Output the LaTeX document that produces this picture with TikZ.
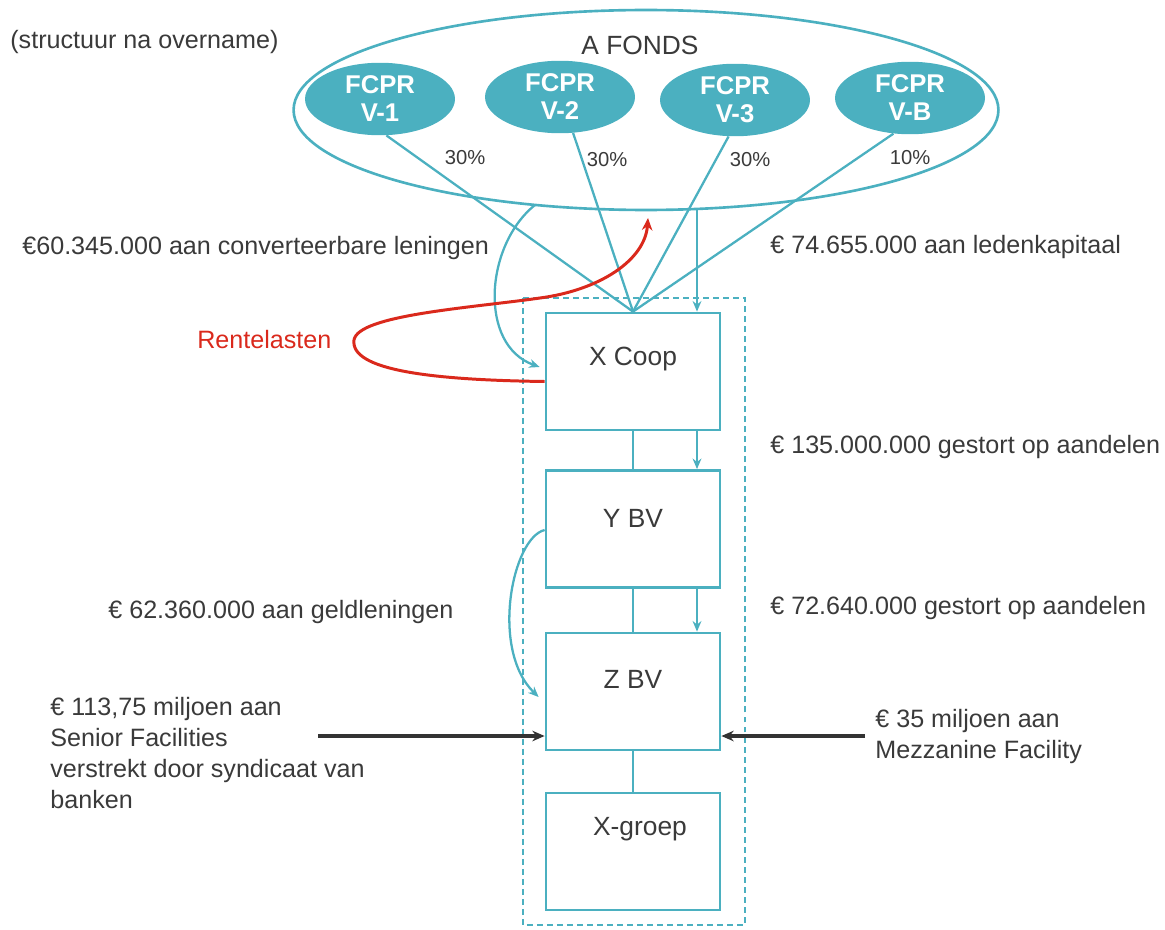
\documentclass[tikz,border=0pt]{standalone}
\usepackage{fontspec}
\setmainfont{Liberation Sans}
\usetikzlibrary{arrows.meta,calc,shapes.geometric}
\definecolor{fondsblauw}{RGB}{75,176,192}
\definecolor{renterood}{RGB}{218,41,28}
\definecolor{tekstgrijs}{RGB}{58,58,58}
\tikzset{
	tekst/.style={inner sep=0pt, text=tekstgrijs, font=\fontsize{14.3}{17.6}\selectfont},
	procent/.style={inner sep=0pt, text=tekstgrijs, font=\fontsize{11.5}{13}\selectfont},
	fcpr/.style={ellipse, fill=fondsblauw, inner sep=0pt, minimum width=3cm, minimum height=1.45cm, align=center, text=white, font=\bfseries\fontsize{14.6}{15.9}\selectfont},
	entiteit/.style={draw=fondsblauw, line width=1.6pt, minimum width=3.48cm, minimum height=2.34cm, inner sep=0pt},
	naam/.style={anchor=center, inner sep=0pt, text=tekstgrijs, font=\fontsize{15}{18}\selectfont},
	lijn/.style={draw=fondsblauw, line width=1.3pt},
	pijl/.style={lijn, -{Stealth[length=6pt,width=5pt]}},
	zwaar/.style={draw=black!80, line width=1.9pt, -{Stealth[length=7pt,width=6pt]}}
}

\begin{document}
\begin{tikzpicture}[x=0.02cm, y=-0.02cm]
		%%%%% START %%%%%
		\useasboundingbox (0, 0) rectangle (1165, 929);
		
		\node[tekst, anchor=west] (structuur) at (10, 42) {(structuur na overname)};
		
		\node[draw=fondsblauw, line width=1.5pt, ellipse, minimum width=14.1cm, minimum height=4cm] (fonds) at (646, 110) {};
		\node[tekst, font=\fontsize{15}{18}\selectfont] (fondsnaam) at (640, 45) {A FONDS};
		
		\node[fcpr] (v1) at (380, 99) {FCPR\\V-1};
		\node[fcpr] (v2) at (560, 97) {FCPR\\V-2};
		\node[fcpr] (v3) at (735, 100) {FCPR\\V-3};
		\node[fcpr] (vb) at (910, 98) {FCPR\\V-B};
		
		\node[procent] (p1) at (465, 158) {30\%};
		\node[procent] (p2) at (607, 160) {30\%};
		\node[procent] (p3) at (750, 160) {30\%};
		\node[procent] (pb) at (910, 158) {10\%};
		
		\draw[dashed, dash pattern=on 3.4pt off 2.3pt, draw=fondsblauw, line width=1.3pt] (523, 298) rectangle (745, 925);
		
		\node[entiteit, label={[naam, yshift=-0.94cm]north:X Coop}] (xcoop) at (633, 371.5) {};
		\node[entiteit, label={[naam, yshift=-0.98cm]north:Y BV}] (ybv) at (633, 529) {};
		\node[entiteit, label={[naam, yshift=-0.96cm]north:Z BV}] (zbv) at (633, 691.5) {};
		\node[entiteit, label={[naam, xshift=0.14cm, yshift=-0.76cm]north:X-groep}] (xgroep) at (633, 851.5) {};
		
		\draw[lijn] (v1.-80) -- (xcoop.north);
		\draw[lijn] (v2.-70) -- (xcoop.north);
		\draw[lijn] (v3.-100) -- (xcoop.north);
		\draw[lijn] (vb.-115) -- (xcoop.north);
		
		\coordinate (kapitaal) at (697, 209);
		\draw[pijl] (kapitaal) -- (kapitaal |- xcoop.north);
		
		\coordinate (lening) at (535, 205);
		\draw[pijl] (lening) .. controls (485, 245) and (478, 345) .. ($(xcoop.west)+(-5, -4.5)$);
		
		\coordinate (rente) at (648, 218);
		\draw[draw=renterood, line width=1.7pt, -{Stealth[length=7pt,width=6pt]}] ($(xcoop.west)+(0, 10)$) .. controls (430, 380) and (350, 370) .. (354, 340) .. controls (358, 315) and (470, 308) .. (540, 298) .. controls (600, 290) and (645, 260) .. (rente);
		
		\draw[lijn] (xcoop.south) -- (ybv.north);
		\draw[pijl] ($(xcoop.south)+(64, 0)$) -- ($(ybv.north)+(64, 0)$);
		\draw[lijn] (ybv.south) -- (zbv.north);
		\draw[pijl] ($(ybv.south)+(64, 0)$) -- ($(zbv.north)+(64, 0)$);
		\draw[lijn] (zbv.south) -- (xgroep.north);
		
		\draw[pijl] ($(ybv.west)+(0, 1)$) .. controls (512, 538) and (490, 650) .. ($(zbv.west)+(-6, 5.5)$);
		
		\coordinate (senior) at (318, 736);
		\coordinate (mezzanine) at (865, 736);
		\draw[zwaar] (senior) -- (senior -| zbv.west);
		\draw[zwaar] (mezzanine) -- (mezzanine -| zbv.east);
		
		\node[tekst, anchor=west] (converteerbaar) at (22, 248) {€60.345.000 aan converteerbare leningen};
		\node[tekst, anchor=west, text=renterood] (rentelasten) at (197, 340) {Rentelasten};
		\node[tekst, anchor=west] (geldlening) at (108, 612) {€ 62.360.000 aan geldleningen};
		\node[tekst, anchor=north west, align=left] (seniortekst) at (50, 697) {€ 113,75 miljoen aan\\Senior Facilities\\verstrekt door syndicaat van\\banken};
		
		\node[tekst, anchor=west] (ledenkapitaal) at (770, 247) {€ 74.655.000 aan ledenkapitaal};
		\node[tekst, anchor=west] (aandelen1) at (770, 447) {€ 135.000.000 gestort op aandelen};
		\node[tekst, anchor=west] (aandelen2) at (770, 608) {€ 72.640.000 gestort op aandelen};
		\node[tekst, anchor=north west, align=left] (mezzaninetekst) at (875, 709) {€ 35 miljoen aan\\Mezzanine Facility};
		
		%%%%% END %%%%%
\end{tikzpicture}
\end{document}
